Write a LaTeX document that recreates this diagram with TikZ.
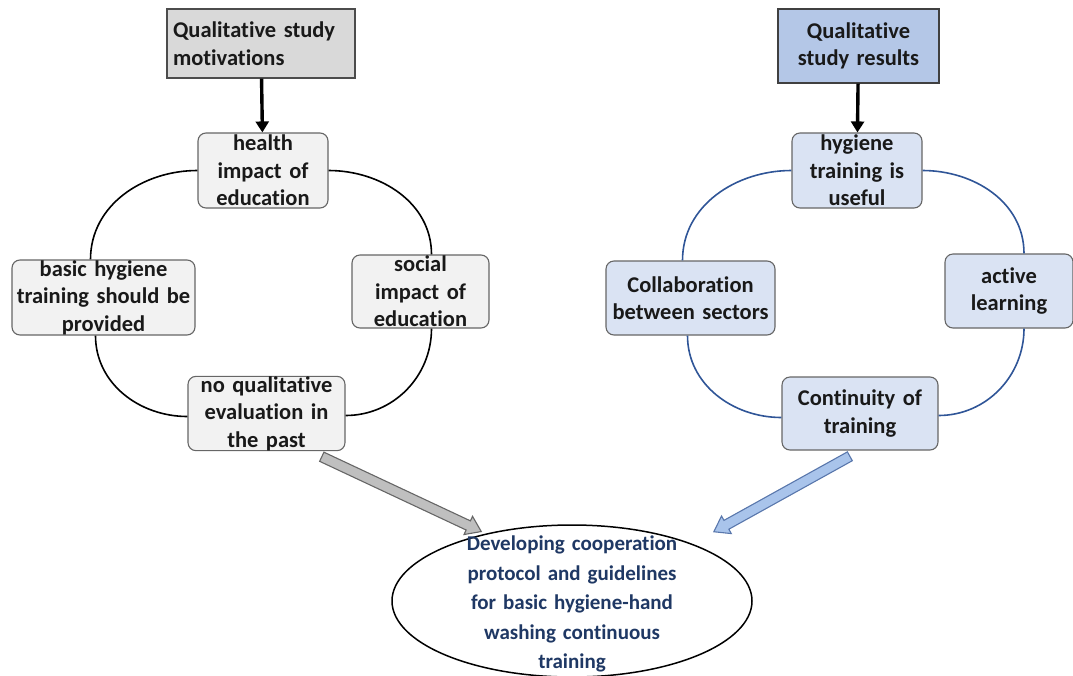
\documentclass[tikz,border=0pt]{standalone}
\usepackage{fontspec}
\setmainfont{Carlito}[Ligatures=NoCommon]
\usepackage{tikz}
\usetikzlibrary{positioning}
\usetikzlibrary{shapes.geometric, shapes.arrows}
\usetikzlibrary{arrows.meta}
\usetikzlibrary{calc}

\definecolor{headgray}{HTML}{D9D9D9}
\definecolor{boxgray}{HTML}{F2F2F2}
\definecolor{headblue}{HTML}{B4C7E7}
\definecolor{boxblue}{HTML}{DAE3F3}
\definecolor{ringblue}{HTML}{2F5597}
\definecolor{goalnavy}{HTML}{1F3864}
\definecolor{fatgray}{HTML}{BFBFBF}
\definecolor{fatblue}{HTML}{A9C4EB}

\begin{document}
\begin{tikzpicture}[x=1pt,y=-1pt,
    every node/.style={font=\bfseries\fontsize{22.5}{27.5}\selectfont, text=black!90},
    headbox/.style={draw=black!70, line width=1.3pt, inner sep=0pt, align=center},
    topicbox/.style={draw=black!60, line width=1.1pt, rounded corners=8pt, inner sep=0pt, align=center},
    ring/.style={line width=1.6pt},
    drop/.style={line width=3.4pt, -{Triangle[length=11pt,width=13pt]}},
    fatarrow/.style={single arrow, line width=1.1pt, inner sep=4.5pt, single arrow head extend=5pt,
        single arrow tip angle=70, outer sep=0pt}]
    \useasboundingbox (0,0) rectangle (1073,675);
    % left side: motivations
    \node[headbox, fill=headgray, minimum width=188, minimum height=69, text width=176, align=left] (motiv) at (261,43.5) {Qualitative study\\motivations};
    \node[topicbox, fill=boxgray, minimum width=130, minimum height=75, text width=128] (health) at (263,170.5) {health\\impact of\\education};
    \node[topicbox, fill=boxgray, minimum width=183, minimum height=75, text width=181] (basic) at (103.5,297.5) {basic hygiene\\training should be\\provided};
    \node[topicbox, fill=boxgray, minimum width=137, minimum height=73, text width=135] (social) at (420.5,291.5) {social\\impact of\\education};
    \node[topicbox, fill=boxgray, minimum width=157, minimum height=73, text width=155] (noqual) at (266.5,413.5) {no qualitative\\evaluation in\\the past};
    \draw[drop] (motiv) -- (health);
    \draw[ring] (health.west) to[out=180,in=90] ([xshift=-13pt]basic.north);
    \draw[ring] (health.east) to[out=0,in=90] ([xshift=11pt]social.north);
    \draw[ring] ([xshift=-8pt]basic.south) to[out=-90,in=180] ([yshift=-3pt]noqual.west);
    \draw[ring] ([xshift=11pt]social.south) to[out=-90,in=0] ([yshift=-2pt]noqual.east);
    % right side: results
    \node[headbox, fill=headblue, draw=black!75, minimum width=161, minimum height=74, text width=159] (results) at (858.5,46) {Qualitative\\study results};
    \node[topicbox, fill=boxblue, minimum width=130, minimum height=75, text width=128] (useful) at (857,170.5) {hygiene\\training is\\useful};
    \node[topicbox, fill=boxblue, minimum width=169, minimum height=74, text width=167] (collab) at (690.5,298) {Collaboration\\between sectors};
    \node[topicbox, fill=boxblue, minimum width=128, minimum height=74, text width=126] (active) at (1009,291) {active\\learning};
    \node[topicbox, fill=boxblue, minimum width=156, minimum height=73, text width=154] (contin) at (860,413.5) {Continuity of\\training};
    \draw[drop] (results) -- (useful);
    \draw[ring, ringblue] (useful.west) to[out=180,in=90] ([xshift=-8pt]collab.north);
    \draw[ring, ringblue] (useful.east) to[out=0,in=90] ([xshift=15pt]active.north);
    \draw[ring, ringblue] ([xshift=-3pt]collab.south) to[out=-90,in=180] ([yshift=-4pt]contin.west);
    \draw[ring, ringblue] ([xshift=15pt]active.south) to[out=-90,in=0] ([yshift=-2pt]contin.east);
    % goal
    \node[ellipse, draw, line width=1.5pt, fill=white, minimum width=360, minimum height=152, inner sep=0pt] (goal) at (572,601) {};
    \node[text=goalnavy, align=center, text width=250, inner sep=0pt, font=\bfseries\fontsize{21}{29.5}\selectfont] (goaltext) at (572,604) {Developing cooperation\\protocol and guidelines\\for basic hygiene-hand\\washing continuous\\training};
    % fat arrows into the goal
    \coordinate (gtail) at ([xshift=52pt,yshift=-4pt]noqual.south);
    \coordinate (gtip) at (478,530);
    \coordinate (btail) at ([xshift=-7pt,yshift=-4pt]contin.south);
    \coordinate (btip) at (717,530);
    \path let \p1=($(gtip)-(gtail)$), \n1={atan2(\y1,\x1)}, \n2={veclen(\x1,\y1)} in
        node[fatarrow, draw=black!60, fill=fatgray, minimum height=\n2, rotate=\n1] at ($(gtail)!0.5!(gtip)$) {};
    \path let \p1=($(btip)-(btail)$), \n1={atan2(\y1,\x1)}, \n2={veclen(\x1,\y1)} in
        node[fatarrow, draw=ringblue!80, fill=fatblue, minimum height=\n2, rotate=\n1] at ($(btail)!0.5!(btip)$) {};
\end{tikzpicture}
\end{document}
